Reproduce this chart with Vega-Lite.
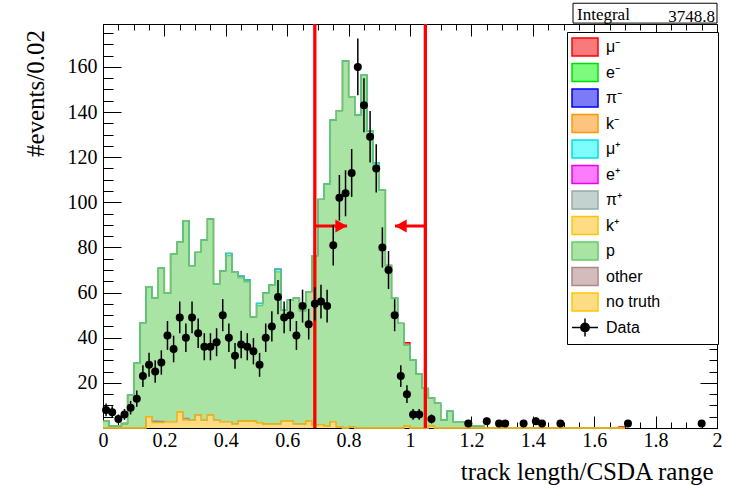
{
  "$schema": "https://vega.github.io/schema/vega-lite/v6.json",
  "width": 614,
  "height": 404,
  "autosize": {"type": "none"},
  "padding": {"left": 103, "top": 24, "right": 14, "bottom": 57},
  "background": "white",
  "config": {
    "view": {"stroke": "black", "strokeWidth": 1},
    "axis": {"zindex": 1, "grid": false},
    "legend": {"orient": "none", "legendX": 464, "legendY": 8, "zindex": 2,
      "fillColor": "white", "strokeColor": "black", "padding": 4,
      "labelFont": "Liberation Sans", "labelFontSize": 16, "labelColor": "black", "labelOffset": 10, "labelLimit": 300,
      "rowPadding": 1.5, "symbolSize": 400, "symbolOffset": 3, "symbolStrokeWidth": 1.5, "symbolOpacity": 1,
      "symbolFillColor": "white"}
  },
  "datasets": {
    "hist": [
      {"x":0,"comp":"p","n":3},{"x":0.02,"comp":"p","n":1},{"x":0.04,"comp":"p","n":1},{"x":0.06,"comp":"p","n":2},
      {"x":0.08,"comp":"p","n":14.6},{"x":0.1,"comp":"p","n":28.7},{"x":0.12,"comp":"p","n":46.7},{"x":0.14,"comp":"p","n":57.6},
      {"x":0.16,"comp":"p","n":54.5},{"x":0.18,"comp":"p","n":67.9},{"x":0.2,"comp":"p","n":56.9},{"x":0.22,"comp":"p","n":74.2},
      {"x":0.24,"comp":"p","n":75.1},{"x":0.26,"comp":"p","n":87.6},{"x":0.28,"comp":"p","n":68.4},{"x":0.3,"comp":"p","n":72},
      {"x":0.32,"comp":"p","n":79.8},{"x":0.34,"comp":"p","n":86.9},{"x":0.36,"comp":"p","n":60.3},{"x":0.38,"comp":"p","n":66.8},
      {"x":0.4,"comp":"p","n":73.6},{"x":0.42,"comp":"p","n":67.2},{"x":0.44,"comp":"p","n":63.4},{"x":0.46,"comp":"p","n":61.7},
      {"x":0.48,"comp":"p","n":46.2},{"x":0.5,"comp":"p","n":51.8},{"x":0.52,"comp":"p","n":58.1},{"x":0.54,"comp":"p","n":61.6},
      {"x":0.56,"comp":"p","n":67.4},{"x":0.58,"comp":"p","n":49.3},{"x":0.6,"comp":"p","n":53.7},{"x":0.62,"comp":"p","n":55.7},
      {"x":0.64,"comp":"p","n":50.2},{"x":0.66,"comp":"p","n":57.4},{"x":0.68,"comp":"p","n":74.9},{"x":0.7,"comp":"p","n":99.8},
      {"x":0.72,"comp":"p","n":107.1},{"x":0.74,"comp":"p","n":133.7},{"x":0.76,"comp":"p","n":140.1},{"x":0.78,"comp":"p","n":162.7},
      {"x":0.8,"comp":"p","n":146.3},{"x":0.82,"comp":"p","n":138.7},{"x":0.84,"comp":"p","n":156.3},{"x":0.86,"comp":"p","n":131.6},
      {"x":0.88,"comp":"p","n":116.3},{"x":0.9,"comp":"p","n":105.4},{"x":0.92,"comp":"p","n":72},{"x":0.94,"comp":"p","n":57.5},
      {"x":0.96,"comp":"p","n":46.4},{"x":0.98,"comp":"p","n":35.6},{"x":1,"comp":"p","n":30.1},{"x":1.02,"comp":"p","n":24},
      {"x":1.04,"comp":"p","n":17.6},{"x":1.06,"comp":"p","n":12.4},{"x":1.08,"comp":"p","n":11},{"x":1.1,"comp":"p","n":3.5},
      {"x":1.12,"comp":"p","n":7.5},{"x":1.14,"comp":"p","n":2.8},{"x":1.16,"comp":"p","n":2.8},{"x":1.18,"comp":"p","n":2},
      {"x":1.2,"comp":"p","n":1},{"x":1.22,"comp":"p","n":1},{"x":1.24,"comp":"p","n":0},
      {"x":0.14,"comp":"no truth","n":5},{"x":0.16,"comp":"no truth","n":2.4},{"x":0.18,"comp":"no truth","n":2.4},{"x":0.2,"comp":"no truth","n":2.8},
      {"x":0.22,"comp":"no truth","n":2.8},{"x":0.24,"comp":"no truth","n":7.2},{"x":0.26,"comp":"no truth","n":3.5},{"x":0.28,"comp":"no truth","n":3.5},
      {"x":0.3,"comp":"no truth","n":5.8},{"x":0.32,"comp":"no truth","n":3.5},{"x":0.34,"comp":"no truth","n":5.8},{"x":0.36,"comp":"no truth","n":3.5},
      {"x":0.38,"comp":"no truth","n":2.8},{"x":0.4,"comp":"no truth","n":2.8},{"x":0.42,"comp":"no truth","n":1.8},{"x":0.44,"comp":"no truth","n":3.1},
      {"x":0.46,"comp":"no truth","n":3.1},{"x":0.48,"comp":"no truth","n":3.1},{"x":0.5,"comp":"no truth","n":2.4},{"x":0.52,"comp":"no truth","n":1.8},
      {"x":0.54,"comp":"no truth","n":1.8},{"x":0.56,"comp":"no truth","n":1.8},{"x":0.58,"comp":"no truth","n":3},{"x":0.6,"comp":"no truth","n":3},
      {"x":0.62,"comp":"no truth","n":1.8},{"x":0.64,"comp":"no truth","n":1.8},{"x":0.66,"comp":"no truth","n":3},{"x":0.68,"comp":"no truth","n":1.5},
      {"x":0.7,"comp":"no truth","n":1.5},{"x":0.72,"comp":"no truth","n":1},{"x":0.74,"comp":"no truth","n":2.8},{"x":0.76,"comp":"no truth","n":0.5},
      {"x":0.8,"comp":"no truth","n":0.5},{"x":0.98,"comp":"no truth","n":1},{"x":1.06,"comp":"no truth","n":1},
      {"x":0.16,"comp":"other","n":0.6},{"x":0.18,"comp":"other","n":0.5},{"x":0.26,"comp":"other","n":0.8},
      {"x":0.4,"comp":"μ⁺","n":1},{"x":0.44,"comp":"μ⁺","n":0.8},{"x":0.46,"comp":"μ⁺","n":0.8},{"x":0.5,"comp":"μ⁺","n":1},
      {"x":0.56,"comp":"μ⁺","n":1.2},{"x":0.88,"comp":"μ⁺","n":1},
      {"x":0.98,"comp":"μ⁻","n":1.2},{"x":1.68,"comp":"μ⁻","n":0.5},{"x":1.7,"comp":"μ⁻","n":0}
    ],
    "obs": [
      {"x":0.01,"n":8,"err":2.8},{"x":0.03,"n":7,"err":2.6},{"x":0.05,"n":4,"err":2},{"x":0.07,"n":6,"err":2.4},
      {"x":0.09,"n":9,"err":3},{"x":0.11,"n":13,"err":3.6},{"x":0.13,"n":23,"err":4.8},{"x":0.15,"n":28,"err":5.3},
      {"x":0.17,"n":25,"err":5},{"x":0.19,"n":29,"err":5.4},{"x":0.21,"n":41,"err":6.4},{"x":0.23,"n":35,"err":5.9},
      {"x":0.25,"n":49,"err":7},{"x":0.27,"n":40,"err":6.3},{"x":0.29,"n":49,"err":7},{"x":0.31,"n":42,"err":6.5},
      {"x":0.33,"n":36,"err":6},{"x":0.35,"n":36,"err":6},{"x":0.37,"n":38,"err":6.2},{"x":0.39,"n":50,"err":7.1},
      {"x":0.41,"n":40,"err":6.3},{"x":0.43,"n":32,"err":5.7},{"x":0.45,"n":37,"err":6.1},{"x":0.47,"n":36,"err":6},
      {"x":0.49,"n":34,"err":5.8},{"x":0.51,"n":28,"err":5.3},{"x":0.53,"n":40,"err":6.3},{"x":0.55,"n":45,"err":6.7},
      {"x":0.57,"n":58,"err":7.6},{"x":0.59,"n":49,"err":7},{"x":0.61,"n":50,"err":7.1},{"x":0.63,"n":41,"err":6.4},
      {"x":0.65,"n":54,"err":7.3},{"x":0.67,"n":46,"err":6.8},{"x":0.69,"n":55,"err":7.4},{"x":0.71,"n":56,"err":7.5},
      {"x":0.73,"n":54,"err":7.3},{"x":0.75,"n":81,"err":9},{"x":0.77,"n":102,"err":10.1},{"x":0.79,"n":104,"err":10.2},
      {"x":0.81,"n":113,"err":10.6},{"x":0.83,"n":160,"err":12.6},{"x":0.85,"n":143,"err":12},{"x":0.87,"n":129,"err":11.4},
      {"x":0.89,"n":115,"err":10.7},{"x":0.91,"n":80,"err":8.9},{"x":0.93,"n":70,"err":8.4},{"x":0.95,"n":50,"err":7.1},
      {"x":0.97,"n":23,"err":4.8},{"x":0.99,"n":15,"err":3.9},{"x":1.01,"n":6,"err":2.4},{"x":1.03,"n":6,"err":2.4},
      {"x":1.07,"n":4,"err":2},{"x":1.19,"n":2,"err":1.4},{"x":1.25,"n":3,"err":1.7},{"x":1.29,"n":2,"err":1.4},
      {"x":1.31,"n":2,"err":1.4},{"x":1.37,"n":2,"err":1.4},{"x":1.41,"n":3,"err":1.7},{"x":1.43,"n":2,"err":1.4},
      {"x":1.49,"n":2,"err":1.4},{"x":1.71,"n":2,"err":1.4},{"x":1.95,"n":2,"err":1.4}
    ],
    "cuts": [
      {"cut":0.69,"tip":0.795,"dir":"right"},
      {"cut":1.05,"tip":0.951,"dir":"left"}
    ],
    "stats": [{"label":"Integral","value":"3748.8"}]
  },
  "data": {"name": "hist"},
  "transform": [
    {"impute": "n", "key": "x", "groupby": ["comp"], "value": 0},
    {"calculate": "indexof(['no truth','other','p','k⁺','π⁺','e⁺','μ⁺','k⁻','π⁻','e⁻','μ⁻'], datum.comp)", "as": "ord"},
    {"stack": "n", "groupby": ["x"], "sort": [{"field": "ord", "order": "ascending"}], "as": ["y0", "y1"]}
  ],
  "resolve": {"scale": {"x": "shared", "y": "shared"}, "axis": {"x": "independent", "y": "independent"}},
  "layer": [
    {
      "mark": {"type": "area", "interpolate": "step-after", "opacity": 1},
      "encoding": {
        "x": {"field": "x", "type": "quantitative", "scale": {"domain": [0, 2], "nice": false, "zero": false},
          "axis": {"orient": "bottom", "values": [0,0.2,0.4,0.6,0.8,1,1.2,1.4,1.6,1.8,2], "format": "~g", "ticks": false, "domain": false,
            "labelFont": "Liberation Serif", "labelFontSize": 20, "labelColor": "black", "labelPadding": 2, "labelFlush": false, "labelOverlap": false, "labelBound": false,
            "title": "track length/CSDA range", "titleFont": "Liberation Serif", "titleFontSize": 25, "titleFontWeight": "normal", "titleColor": "black",
            "titleAnchor": "end", "titleAlign": "right", "titleBaseline": "alphabetic", "titleX": 610, "titleY": 51.5}},
        "y": {"field": "y1", "type": "quantitative", "scale": {"domain": [0, 179], "nice": false},
          "axis": {"orient": "left", "values": [20,40,60,80,100,120,140,160], "ticks": false, "domain": false,
            "labelFont": "Liberation Serif", "labelFontSize": 20, "labelColor": "black", "labelPadding": 6, "labelOverlap": false, "labelBound": false,
            "title": "#events/0.02", "titleFont": "Liberation Serif", "titleFontSize": 25, "titleFontWeight": "normal", "titleColor": "black",
            "titleAngle": -90, "titleAlign": "right", "titleBaseline": "alphabetic", "titleX": -60, "titleY": 5.5}},
        "y2": {"field": "y0"},
        "fill": {"field": "comp", "type": "nominal",
          "scale": {"domain": ["μ⁻","e⁻","π⁻","k⁻","μ⁺","e⁺","π⁺","k⁺","p","other","no truth","Data"],
            "range": ["#f87a7a","#7cfc7c","#7b7bf7","#fcc47e","#7ffcfc","#fc7cfc","#c4d2cf","#fddc84","#a9e4a4","#d5bcbc","#fddc84","#000000"]},
          "legend": {"title": null}}
      }
    },
    {
      "mark": {"type": "point", "filled": true, "opacity": 0},
      "encoding": {
        "x": {"field": "x", "type": "quantitative", "scale": {"domain": [0, 2]}, "axis": null},
        "y": {"field": "y1", "type": "quantitative", "scale": {"domain": [0, 179]}, "axis": null},
        "fill": {"field": "comp", "type": "nominal", "legend": {"title": null}},
        "stroke": {"field": "comp", "type": "nominal",
          "scale": {"domain": ["μ⁻","e⁻","π⁻","k⁻","μ⁺","e⁺","π⁺","k⁺","p","other","no truth","Data"],
            "range": ["#ff0000","#00dd00","#0000ee","#ff9900","#00e0e0","#ee00ee","#98aaa6","#ffc400","#66cc66","#aa8888","#ffc400","#000000"]},
          "legend": {"title": null}},
        "shape": {"field": "comp", "type": "nominal",
          "scale": {"domain": ["μ⁻","e⁻","π⁻","k⁻","μ⁺","e⁺","π⁺","k⁺","p","other","no truth","Data"],
            "range": ["M-1.3,-0.9H1.3V0.9H-1.3ZM12.6,0","M-1.3,-0.9H1.3V0.9H-1.3ZM12.6,0","M-1.3,-0.9H1.3V0.9H-1.3ZM12.6,0","M-1.3,-0.9H1.3V0.9H-1.3ZM12.6,0","M-1.3,-0.9H1.3V0.9H-1.3ZM12.6,0","M-1.3,-0.9H1.3V0.9H-1.3ZM12.6,0","M-1.3,-0.9H1.3V0.9H-1.3ZM12.6,0","M-1.3,-0.9H1.3V0.9H-1.3ZM12.6,0","M-1.3,-0.9H1.3V0.9H-1.3ZM12.6,0","M-1.3,-0.9H1.3V0.9H-1.3ZM12.6,0","M-1.3,-0.9H1.3V0.9H-1.3ZM12.6,0","M-1.3,0H1.3M0,-0.9V0.9M0.42,0A0.42,0.42 0 1 1 -0.42,0A0.42,0.42 0 1 1 0.42,0Z"]},
          "legend": {"title": null}}
      }
    },
    {
      "transform": [{"filter": "datum.comp === 'μ⁻'"}],
      "mark": {"type": "line", "interpolate": "step-after", "color": "#ff0000", "strokeWidth": 1.3},
      "encoding": {
        "x": {"field": "x", "type": "quantitative", "scale": {"domain": [0, 2]},
          "axis": {"orient": "bottom", "values": [0,0.2,0.4,0.6,0.8,1,1.2,1.4,1.6,1.8,2], "labels": false, "domain": false, "tickSize": -12, "tickColor": "black", "tickWidth": 1, "title": null}},
        "y": {"field": "y1", "type": "quantitative", "scale": {"domain": [0, 179]},
          "axis": {"orient": "left", "values": [0,20,40,60,80,100,120,140,160], "labels": false, "domain": false, "tickSize": -18, "tickColor": "black", "tickWidth": 1, "title": null}}
      }
    },
    {
      "transform": [{"filter": "datum.comp === 'μ⁺'"}],
      "mark": {"type": "line", "interpolate": "step-after", "color": "#00e0e0", "strokeWidth": 1.3},
      "encoding": {
        "x": {"field": "x", "type": "quantitative", "scale": {"domain": [0, 2]},
          "axis": {"orient": "bottom", "values": [0,0.05,0.1,0.15,0.2,0.25,0.3,0.35,0.4,0.45,0.5,0.55,0.6,0.65,0.7,0.75,0.8,0.85,0.9,0.95,1,1.05,1.1,1.15,1.2,1.25,1.3,1.35,1.4,1.45,1.5,1.55,1.6,1.65,1.7,1.75,1.8,1.85,1.9,1.95,2], "labels": false, "domain": false, "tickSize": -6, "tickColor": "black", "tickWidth": 1, "title": null}},
        "y": {"field": "y1", "type": "quantitative", "scale": {"domain": [0, 179]},
          "axis": {"orient": "left", "values": [0,5,10,15,20,25,30,35,40,45,50,55,60,65,70,75,80,85,90,95,100,105,110,115,120,125,130,135,140,145,150,155,160,165,170,175], "labels": false, "domain": false, "tickSize": -10, "tickColor": "black", "tickWidth": 1, "title": null}}
      }
    },
    {
      "transform": [{"filter": "datum.comp === 'p'"}],
      "mark": {"type": "line", "interpolate": "step-after", "color": "#66cc66", "strokeWidth": 1.3},
      "encoding": {
        "x": {"field": "x", "type": "quantitative", "scale": {"domain": [0, 2]},
          "axis": {"orient": "top", "values": [0,0.2,0.4,0.6,0.8,1,1.2,1.4,1.6,1.8,2], "labels": false, "domain": false, "tickSize": -12, "tickColor": "black", "tickWidth": 1, "title": null}},
        "y": {"field": "y1", "type": "quantitative", "scale": {"domain": [0, 179]},
          "axis": {"orient": "right", "values": [0,20,40,60,80,100,120,140,160], "labels": false, "domain": false, "tickSize": -17, "tickColor": "black", "tickWidth": 1, "title": null}}
      }
    },
    {
      "transform": [{"filter": "datum.comp === 'other'"}],
      "mark": {"type": "line", "interpolate": "step-after", "color": "#aa8888", "strokeWidth": 1.3},
      "encoding": {
        "x": {"field": "x", "type": "quantitative", "scale": {"domain": [0, 2]},
          "axis": {"orient": "top", "values": [0,0.05,0.1,0.15,0.2,0.25,0.3,0.35,0.4,0.45,0.5,0.55,0.6,0.65,0.7,0.75,0.8,0.85,0.9,0.95,1,1.05,1.1,1.15,1.2,1.25,1.3,1.35,1.4,1.45,1.5,1.55,1.6,1.65,1.7,1.75,1.8,1.85,1.9,1.95,2], "labels": false, "domain": false, "tickSize": -6, "tickColor": "black", "tickWidth": 1, "title": null}},
        "y": {"field": "y1", "type": "quantitative", "scale": {"domain": [0, 179]},
          "axis": {"orient": "right", "values": [0,5,10,15,20,25,30,35,40,45,50,55,60,65,70,75,80,85,90,95,100,105,110,115,120,125,130,135,140,145,150,155,160,165,170,175], "labels": false, "domain": false, "tickSize": -8, "tickColor": "black", "tickWidth": 1, "title": null}}
      }
    },
    {
      "transform": [{"filter": "datum.comp === 'no truth'"}],
      "mark": {"type": "line", "interpolate": "step-after", "color": "#f5b800", "strokeWidth": 1.3},
      "encoding": {
        "x": {"field": "x", "type": "quantitative", "scale": {"domain": [0, 2]}, "axis": null},
        "y": {"field": "y1", "type": "quantitative", "scale": {"domain": [0, 179]}, "axis": null}
      }
    },
    {
      "data": {"name": "cuts"},
      "mark": {"type": "rule", "color": "#ff0000", "strokeWidth": 3.3},
      "encoding": {
        "x": {"field": "cut", "type": "quantitative", "scale": {"domain": [0, 2]}, "axis": null}
      }
    },
    {
      "data": {"name": "cuts"},
      "mark": {"type": "rule", "color": "#ff0000", "strokeWidth": 3},
      "encoding": {
        "x": {"field": "cut", "type": "quantitative", "scale": {"domain": [0, 2]}, "axis": null},
        "x2": {"field": "tip"},
        "y": {"datum": 89.5, "type": "quantitative", "axis": null}
      }
    },
    {
      "data": {"name": "cuts"},
      "transform": [{"filter": "datum.dir === 'right'"}],
      "mark": {"type": "point", "filled": true, "opacity": 1, "color": "#ff0000", "size": 169, "strokeWidth": 0, "shape": "M0,0L-1.8,-1L-1.8,1Z"},
      "encoding": {
        "x": {"field": "tip", "type": "quantitative", "scale": {"domain": [0, 2]}, "axis": null},
        "y": {"datum": 89.5, "type": "quantitative", "axis": null}
      }
    },
    {
      "data": {"name": "cuts"},
      "transform": [{"filter": "datum.dir === 'left'"}],
      "mark": {"type": "point", "filled": true, "opacity": 1, "color": "#ff0000", "size": 169, "strokeWidth": 0, "shape": "M0,0L1.8,-1L1.8,1Z"},
      "encoding": {
        "x": {"field": "tip", "type": "quantitative", "scale": {"domain": [0, 2]}, "axis": null},
        "y": {"datum": 89.5, "type": "quantitative", "axis": null}
      }
    },
    {
      "data": {"name": "obs"},
      "mark": {"type": "errorbar", "ticks": false, "color": "black", "thickness": 1.5},
      "encoding": {
        "x": {"field": "x", "type": "quantitative", "scale": {"domain": [0, 2]}, "axis": null},
        "y": {"field": "n", "type": "quantitative", "scale": {"domain": [0, 179]}, "axis": null},
        "yError": {"field": "err"}
      }
    },
    {
      "data": {"name": "obs"},
      "mark": {"type": "circle", "color": "black", "opacity": 1, "size": 64},
      "encoding": {
        "x": {"field": "x", "type": "quantitative", "scale": {"domain": [0, 2]}, "axis": null},
        "y": {"field": "n", "type": "quantitative", "scale": {"domain": [0, 179]}, "axis": null}
      }
    },
    {
      "data": {"name": "stats"},
      "mark": {"type": "rect", "fill": "white", "stroke": "black", "strokeWidth": 1},
      "encoding": {
        "x": {"datum": 1.531, "type": "quantitative", "axis": null},
        "x2": {"datum": 2.0},
        "y": {"datum": 179.4, "type": "quantitative", "axis": null},
        "y2": {"datum": 188.2}
      }
    },
    {
      "data": {"name": "stats"},
      "mark": {"type": "text", "align": "left", "baseline": "alphabetic", "font": "Liberation Serif", "fontSize": 17, "color": "black"},
      "encoding": {
        "x": {"datum": 1.544, "type": "quantitative", "axis": null},
        "y": {"datum": 180.9, "type": "quantitative", "axis": null},
        "text": {"field": "label"}
      }
    },
    {
      "data": {"name": "stats"},
      "mark": {"type": "text", "align": "right", "baseline": "alphabetic", "font": "Liberation Serif", "fontSize": 17, "color": "black"},
      "encoding": {
        "x": {"datum": 1.9935, "type": "quantitative", "axis": null},
        "y": {"datum": 180.0, "type": "quantitative", "axis": null},
        "text": {"field": "value"}
      }
    }
  ]
}
